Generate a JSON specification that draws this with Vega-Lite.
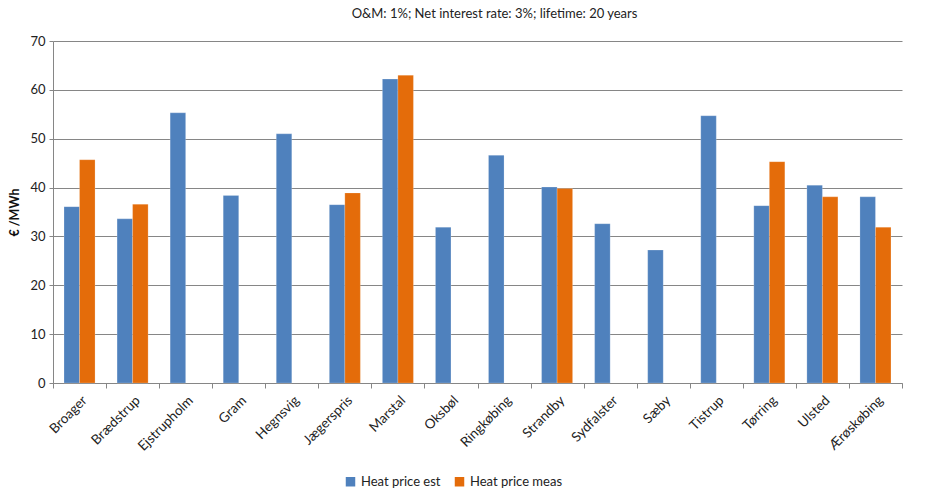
{
  "$schema": "https://vega.github.io/schema/vega-lite/v6.json",
  "width": 849,
  "height": 342,
  "autosize": {"type": "none"},
  "padding": {"left": 53, "top": 41, "right": 27, "bottom": 117},
  "background": "white",
  "title": {
    "text": "O&M: 1%; Net interest rate: 3%; lifetime: 20 years",
    "anchor": "middle",
    "dx": 17,
    "offset": 14,
    "font": "Lato",
    "fontSize": 13,
    "fontWeight": "normal",
    "color": "#222222"
  },
  "config": {
    "view": {"stroke": null},
    "font": "Lato"
  },
  "data": {
    "values": [
      {"plant": "Broager", "series": "Heat price est", "value": 36.1},
      {"plant": "Broager", "series": "Heat price meas", "value": 45.7},
      {"plant": "Brædstrup", "series": "Heat price est", "value": 33.6},
      {"plant": "Brædstrup", "series": "Heat price meas", "value": 36.6},
      {"plant": "Ejstrupholm", "series": "Heat price est", "value": 55.3},
      {"plant": "Gram", "series": "Heat price est", "value": 38.4},
      {"plant": "Hegnsvig", "series": "Heat price est", "value": 51.0},
      {"plant": "Jægerspris", "series": "Heat price est", "value": 36.5},
      {"plant": "Jægerspris", "series": "Heat price meas", "value": 38.9},
      {"plant": "Marstal", "series": "Heat price est", "value": 62.2},
      {"plant": "Marstal", "series": "Heat price meas", "value": 63.0},
      {"plant": "Oksbøl", "series": "Heat price est", "value": 31.9},
      {"plant": "Ringkøbing", "series": "Heat price est", "value": 46.6},
      {"plant": "Strandby", "series": "Heat price est", "value": 40.1},
      {"plant": "Strandby", "series": "Heat price meas", "value": 39.8},
      {"plant": "Sydfalster", "series": "Heat price est", "value": 32.6},
      {"plant": "Sæby", "series": "Heat price est", "value": 27.2},
      {"plant": "Tistrup", "series": "Heat price est", "value": 54.7},
      {"plant": "Tørring", "series": "Heat price est", "value": 36.3},
      {"plant": "Tørring", "series": "Heat price meas", "value": 45.3},
      {"plant": "Ulsted", "series": "Heat price est", "value": 40.5},
      {"plant": "Ulsted", "series": "Heat price meas", "value": 38.1},
      {"plant": "Ærøskøbing", "series": "Heat price est", "value": 38.1},
      {"plant": "Ærøskøbing", "series": "Heat price meas", "value": 31.9}
    ]
  },
  "mark": {"type": "bar", "stroke": "white", "strokeWidth": 0.5, "strokeOpacity": 0.4},
  "encoding": {
    "x": {
      "field": "plant",
      "type": "nominal",
      "sort": null,
      "scale": {"paddingInner": 0, "paddingOuter": 0},
      "axis": {
        "title": null,
        "labelAngle": -45,
        "labelFont": "Lato",
        "labelFontSize": 13.5,
        "labelColor": "#222222",
        "labelPadding": 5,
        "tickBand": "extent",
        "tickSize": 5,
        "tickColor": "#868686",
        "domainColor": "#868686",
        "grid": false
      }
    },
    "xOffset": {
      "field": "series",
      "type": "nominal",
      "scale": {"paddingInner": 0, "paddingOuter": 0.71}
    },
    "y": {
      "field": "value",
      "type": "quantitative",
      "scale": {"domain": [0, 70], "nice": false},
      "axis": {
        "title": "€ /MWh",
        "titleFont": "Lato",
        "titleFontSize": 12.5,
        "titleFontWeight": "bold",
        "titleColor": "#111111",
        "titlePadding": 8,
        "values": [0, 10, 20, 30, 40, 50, 60, 70],
        "labelFont": "Lato",
        "labelFontSize": 13,
        "labelColor": "#222222",
        "labelPadding": 4,
        "tickSize": 4,
        "tickColor": "#868686",
        "domainColor": "#868686",
        "gridColor": "#868686",
        "gridWidth": 1
      }
    },
    "color": {
      "field": "series",
      "type": "nominal",
      "scale": {
        "domain": ["Heat price est", "Heat price meas"],
        "range": ["#4F81BD", "#E46C0A"]
      },
      "legend": {
        "title": null,
        "orient": "none",
        "direction": "horizontal",
        "legendX": 291,
        "legendY": 434,
        "symbolType": "square",
        "symbolSize": 90,
        "symbolStrokeWidth": 0,
        "labelFont": "Lato",
        "labelFontSize": 13,
        "labelColor": "#222222",
        "columnPadding": 12
      }
    }
  }
}
